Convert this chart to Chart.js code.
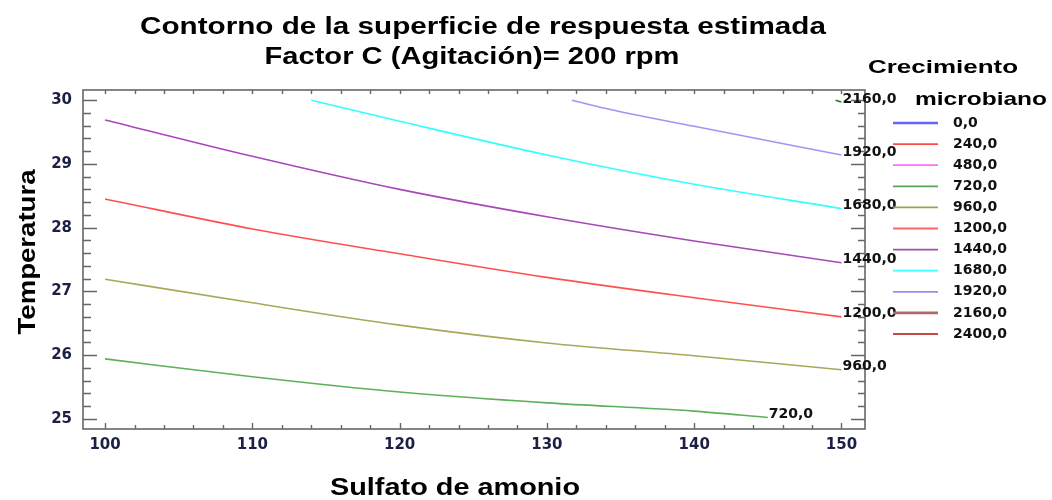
<!DOCTYPE html>
<html>
<head>
<meta charset="utf-8">
<script src="https://cdn.jsdelivr.net/npm/chart.js@4/dist/chart.umd.min.js"></script>
<style>
  body { margin: 0; background: #fff; }
  canvas { display: block; }
</style>
</head>
<body>
<canvas id="contourChart" width="1052" height="500"></canvas>
<script>
// datos (Sulfato de amonio vs Temperatura)
const xTicks = [100, 110, 120, 130, 140, 150];
const yTicks = [25, 26, 27, 28, 29, 30];

const c720X = [100, 110, 120, 130, 140, 145];
const c720Y = [25.94, 25.66, 25.42, 25.25, 25.12, 25.02];
const c960X = [100, 110, 120, 130, 140, 150];
const c960Y = [27.19, 26.82, 26.47, 26.19, 25.99, 25.77];
const c1200X = [100, 110, 120, 130, 140, 150];
const c1200Y = [28.45, 27.98, 27.59, 27.22, 26.9, 26.6];
const c1440X = [100, 110, 120, 130, 140, 150];
const c1440Y = [29.69, 29.12, 28.6, 28.17, 27.79, 27.45];
const c1680X = [114, 120, 130, 140, 150];
const c1680Y = [30.0, 29.67, 29.14, 28.68, 28.3];
const c1920X = [131.7, 133.6, 140, 150];
const c1920Y = [30.0, 29.89, 29.59, 29.14];
const c2160X = [149.6, 150];
const c2160Y = [30.0, 29.97];

// leyenda (niveles de contorno)
const legendLevels = ["0,0", "240,0", "480,0", "720,0", "960,0", "1200,0", "1440,0", "1680,0", "1920,0", "2160,0", "2400,0"];
const legendColors = ["#6464ff", "#ff4a4a", "#ff6cff", "#58a858", "#a0a055", "#ff6464", "#a050b0", "#3cffff", "#9c8cf0", "#b06868", "#c84848"];

// cada linea: [x, y, etiqueta, color]
const contours = [
  [c720X, c720Y, "720,0", "#5cb05c"],
  [c960X, c960Y, "960,0", "#a8a858"],
  [c1200X, c1200Y, "1200,0", "#ff5050"],
  [c1440X, c1440Y, "1440,0", "#a848b8"],
  [c1680X, c1680Y, "1680,0", "#30ffff"],
  [c1920X, c1920Y, "1920,0", "#a494f0"],
  [c2160X, c2160Y, "2160,0", "#2e8b2e"],
];

const TICK_COLOR = "#1c2044";

// texto estirado horizontalmente (la imagen original esta ensanchada)
function stretchText(ctx, text, cx, cy, font, width, rot) {
  ctx.save();
  ctx.font = font;
  const w = ctx.measureText(text).width;
  ctx.translate(cx, cy);
  if (rot) ctx.rotate(rot);
  ctx.scale(width / w, 1);
  ctx.textAlign = "center";
  ctx.textBaseline = "middle";
  ctx.fillStyle = "#000";
  ctx.fillText(text, 0, 0);
  ctx.restore();
}

const decorPlugin = {
  id: "decor",
  afterDraw(chart) {
    const ctx = chart.ctx;
    const a = chart.chartArea;
    const xs = chart.scales.x;
    const ys = chart.scales.y;

    // marco
    ctx.save();
    ctx.strokeStyle = "#666";
    ctx.lineWidth = 1.6;
    ctx.strokeRect(a.left, a.top, a.right - a.left, a.bottom - a.top);

    // marcas hacia adentro
    ctx.lineWidth = 1.4;
    ctx.beginPath();
    for (let v = 100; v <= 150; v += 2) {
      const px = Math.round(xs.getPixelForValue(v)) + 0.5;
      const len = v % 10 === 0 ? 6 : 4;
      ctx.moveTo(px, a.bottom); ctx.lineTo(px, a.bottom - len);
      ctx.moveTo(px, a.top); ctx.lineTo(px, a.top + 4);
    }
    for (let i = 0; i <= 25; i++) {
      const v = 25 + i * 0.2;
      const py = Math.round(ys.getPixelForValue(v)) + 0.5;
      const major = i % 5 === 0;
      ctx.moveTo(a.left, py); ctx.lineTo(a.left + (major ? 14 : 8), py);
      ctx.moveTo(a.right, py); ctx.lineTo(a.right - (major ? 14 : 7), py);
    }
    ctx.stroke();
    ctx.restore();

    // etiquetas de contorno
    ctx.save();
    ctx.font = "bold 14px 'DejaVu Sans'";
    ctx.fillStyle = "#111";
    ctx.textBaseline = "middle";
    ctx.textAlign = "left";
    contours.forEach(([cx, cy, lab]) => {
      const px = xs.getPixelForValue(cx[cx.length - 1]);
      const py = ys.getPixelForValue(cy[cy.length - 1]);
      ctx.fillText(lab, px + 1, py - 3);
    });
    ctx.restore();

    // leyenda
    ctx.save();
    stretchText(ctx, "Crecimiento", 943, 68, "bold 19px 'Liberation Sans'", 150);
    stretchText(ctx, "microbiano", 981, 100, "bold 19px 'Liberation Sans'", 132);
    ctx.font = "bold 14px 'DejaVu Sans'";
    ctx.textBaseline = "middle";
    ctx.textAlign = "left";
    legendLevels.forEach((lab, i) => {
      const y = 123 + i * 21.1;
      ctx.strokeStyle = legendColors[i];
      ctx.lineWidth = (i === 0 || i === 9) ? 2.6 : 1.8;
      ctx.beginPath();
      ctx.moveTo(893, y); ctx.lineTo(938, y);
      ctx.stroke();
      ctx.fillStyle = "#111";
      ctx.fillText(lab, 953, y);
    });
    ctx.restore();

    // titulos
    stretchText(ctx, "Contorno de la superficie de respuesta estimada", 483, 28, "bold 23px 'Liberation Sans'", 686);
    stretchText(ctx, "Factor C (Agitación)= 200 rpm", 472, 58, "bold 23px 'Liberation Sans'", 415);
    stretchText(ctx, "Sulfato de amonio", 455, 488, "bold 24px 'Liberation Sans'", 250);
    stretchText(ctx, "Temperatura", 28, 252, "bold 24px 'Liberation Sans'", 165, -Math.PI / 2);
  },
};

const datasets = contours.map(([cx, cy, lab, color]) => ({
  label: lab,
  data: cx.map((x, i) => ({ x: x, y: cy[i] })),
  showLine: true,
  borderColor: color,
  borderWidth: 1.6,
  pointRadius: 0,
  cubicInterpolationMode: "monotone",
  fill: false,
}));

const tickFont = { family: "DejaVu Sans", size: 15, weight: "bold" };

new Chart(document.getElementById("contourChart"), {
  type: "scatter",
  data: { datasets: datasets },
  options: {
    responsive: false,
    animation: false,
    layout: { padding: { left: 0, top: 90, right: 187, bottom: 0 } },
    plugins: {
      legend: { display: false },
      tooltip: { enabled: false },
    },
    scales: {
      x: {
        type: "linear",
        min: 98.5,
        max: 151.6,
        grid: { display: false, drawTicks: false },
        border: { display: false },
        ticks: { font: tickFont, color: TICK_COLOR, padding: 7, maxRotation: 0 },
        afterBuildTicks: (s) => { s.ticks = xTicks.map((v) => ({ value: v })); },
        afterFit: (s) => { s.height = 71; },
      },
      y: {
        type: "linear",
        min: 24.84,
        max: 30.16,
        grid: { display: false, drawTicks: false },
        border: { display: false },
        ticks: { font: tickFont, color: TICK_COLOR, padding: 11 },
        afterBuildTicks: (s) => { s.ticks = yTicks.map((v) => ({ value: v })); },
        afterFit: (s) => { s.width = 83; },
      },
    },
  },
  plugins: [decorPlugin],
});
</script>
</body>
</html>
